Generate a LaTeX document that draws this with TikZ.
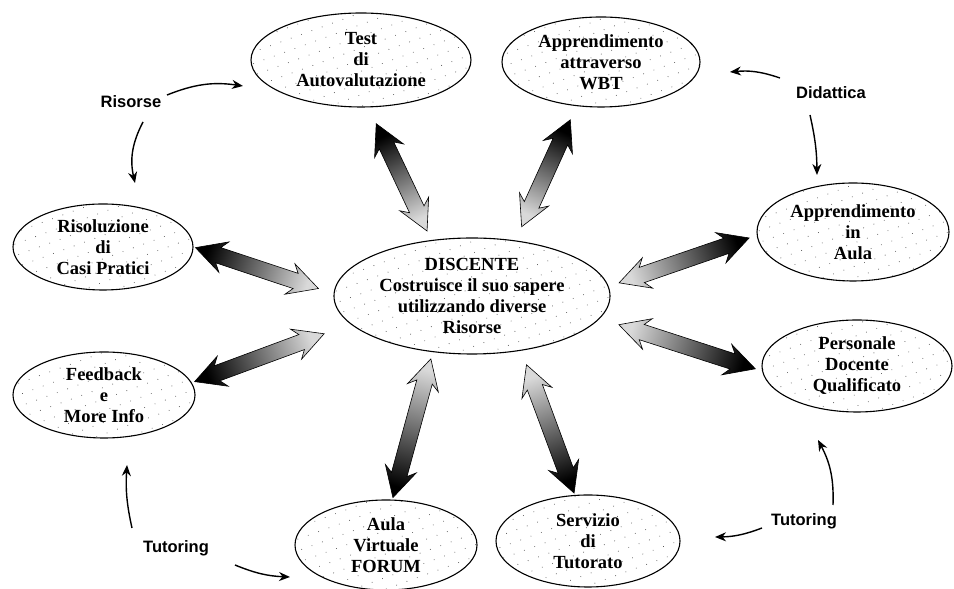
\documentclass[tikz,border=0pt]{standalone}
\usepackage{fontspec}
\setmainfont{Liberation Serif}
\setsansfont{Liberation Sans}
\usetikzlibrary{positioning,calc,shapes.geometric,arrows.meta,patterns.meta}

\begin{document}
\begin{tikzpicture}[x=1pt,y=1pt,
    bubble/.style={ellipse,draw,line width=1.1pt,inner sep=0pt,align=center,
        font=\fontsize{18.5}{21}\selectfont\bfseries,
        pattern={Dots[radius=0.5pt,distance=11pt,angle=20]},pattern color=black!65},
    tag/.style={font=\sffamily\bfseries\fontsize{16.5}{20}\selectfont,inner sep=1pt},
    thinarr/.style={-{Stealth[length=11pt,width=9pt]},line width=1.4pt},
    bigarr/.style={draw=black,line width=0.6pt,shading=axis,top color=black,middle color=black!80,bottom color=gray!30}
]

% canvas
\fill[white] (0,0) rectangle (954,589);
\useasboundingbox (0,0) rectangle (954,589);

% Centre
\node[bubble,minimum width=276pt,minimum height=116pt] (disc) at (472,293)
    {DISCENTE\\Costruisce il suo sapere\\utilizzando diverse\\Risorse};

% Outer bubbles
\node[bubble,minimum width=220pt,minimum height=94pt] (test) at (361,529) {Test\\di\\Autovalutazione};
\node[bubble,minimum width=198pt,minimum height=90pt] (wbt) at (601,527) {Apprendimento\\attraverso\\WBT};
\node[bubble,minimum width=180pt,minimum height=86pt] (caso) at (103,342) {Risoluzione\\di\\Casi Pratici};
\node[bubble,minimum width=192pt,minimum height=98pt] (aula) at (853,357) {Apprendimento\\in\\Aula};
\node[bubble,minimum width=182pt,minimum height=86pt] (feed) at (104,194) {Feedback\\e\\More Info};
\node[bubble,minimum width=190pt,minimum height=92pt] (pers) at (857,223) {Personale\\Docente\\Qualificato};
\node[bubble,minimum width=182pt,minimum height=90pt] (forum) at (386,44) {Aula\\Virtuale\\FORUM};
\node[bubble,minimum width=184pt,minimum height=92pt] (tutor) at (588,48) {Servizio\\di\\Tutorato};

% Big double arrows: bubble / bubble anchor / centre anchor / gaps
\foreach \bub/\ba/\da/\bg/\dg in {test/279/126/18pt/10pt, wbt/241/52/15pt/15pt,
        caso/0/179/2pt/16pt, feed/8/193/3pt/28pt, aula/182/4/8pt/11pt,
        pers/183/350/7pt/20pt, forum/82/235/2pt/7pt, tutor/106/312/2pt/15pt} {
    \coordinate (ta) at ($(\bub.\ba)!\bg!(disc.\da)$);
    \coordinate (tb) at ($(disc.\da)!\dg!(\bub.\ba)$);
    \pgfmathanglebetweenpoints{\pgfpointanchor{ta}{center}}{\pgfpointanchor{tb}{center}}
    \let\ang\pgfmathresult
    \pgfmathsetmacro\sang{\ang+90}
    \shadedraw[bigarr,shading angle=\sang] (ta)
        -- ($(ta)+(\ang:30pt)+(\ang+90:16pt)$) -- ($(ta)+(\ang:24pt)+(\ang+90:8pt)$)
        -- ($(tb)+(\ang:-24pt)+(\ang+90:8pt)$) -- ($(tb)+(\ang:-30pt)+(\ang+90:16pt)$)
        -- (tb)
        -- ($(tb)+(\ang:-30pt)+(\ang-90:16pt)$) -- ($(tb)+(\ang:-24pt)+(\ang-90:8pt)$)
        -- ($(ta)+(\ang:24pt)+(\ang-90:8pt)$) -- ($(ta)+(\ang:30pt)+(\ang-90:16pt)$)
        -- cycle;
}

% Labels
\node[tag] (did) at (831,496) {Didattica};
\node[tag] (ris) at (131,487) {Risorse};
\node[tag] (tutl) at (176,41) {Tutoring};
\node[tag] (tutr) at (804,68) {Tutoring};

% Small arrows
\draw[thinarr] ([shift={(-51,15)}]did.center) to[bend right=12] ([shift={(129,-10)}]wbt.center);
\draw[thinarr] ([shift={(-21,-22)}]did.center) to[bend left=6] ([shift={(-36,57)}]aula.center);
\draw[thinarr] ([shift={(36,7)}]ris.center) to[bend left=15] ([shift={(-118,-26)}]test.center);
\draw[thinarr] ([shift={(12,-20)}]ris.center) to[bend right=20] ([shift={(32,64)}]caso.center);
\draw[thinarr] ([shift={(-44,20)}]tutl.center) to[bend left=8] ([shift={(23,-70)}]feed.center);
\draw[thinarr] ([shift={(59,-17)}]tutl.center) to[bend right=10] ([shift={(-96,-32)}]forum.center);
\draw[thinarr] ([shift={(-42,-7)}]tutr.center) to[bend left=10] ([shift={(127,4)}]tutor.center);
\draw[thinarr] ([shift={(29,16)}]tutr.center) to[bend right=15] ([shift={(-39,-74)}]pers.center);

\end{tikzpicture}
\end{document}
